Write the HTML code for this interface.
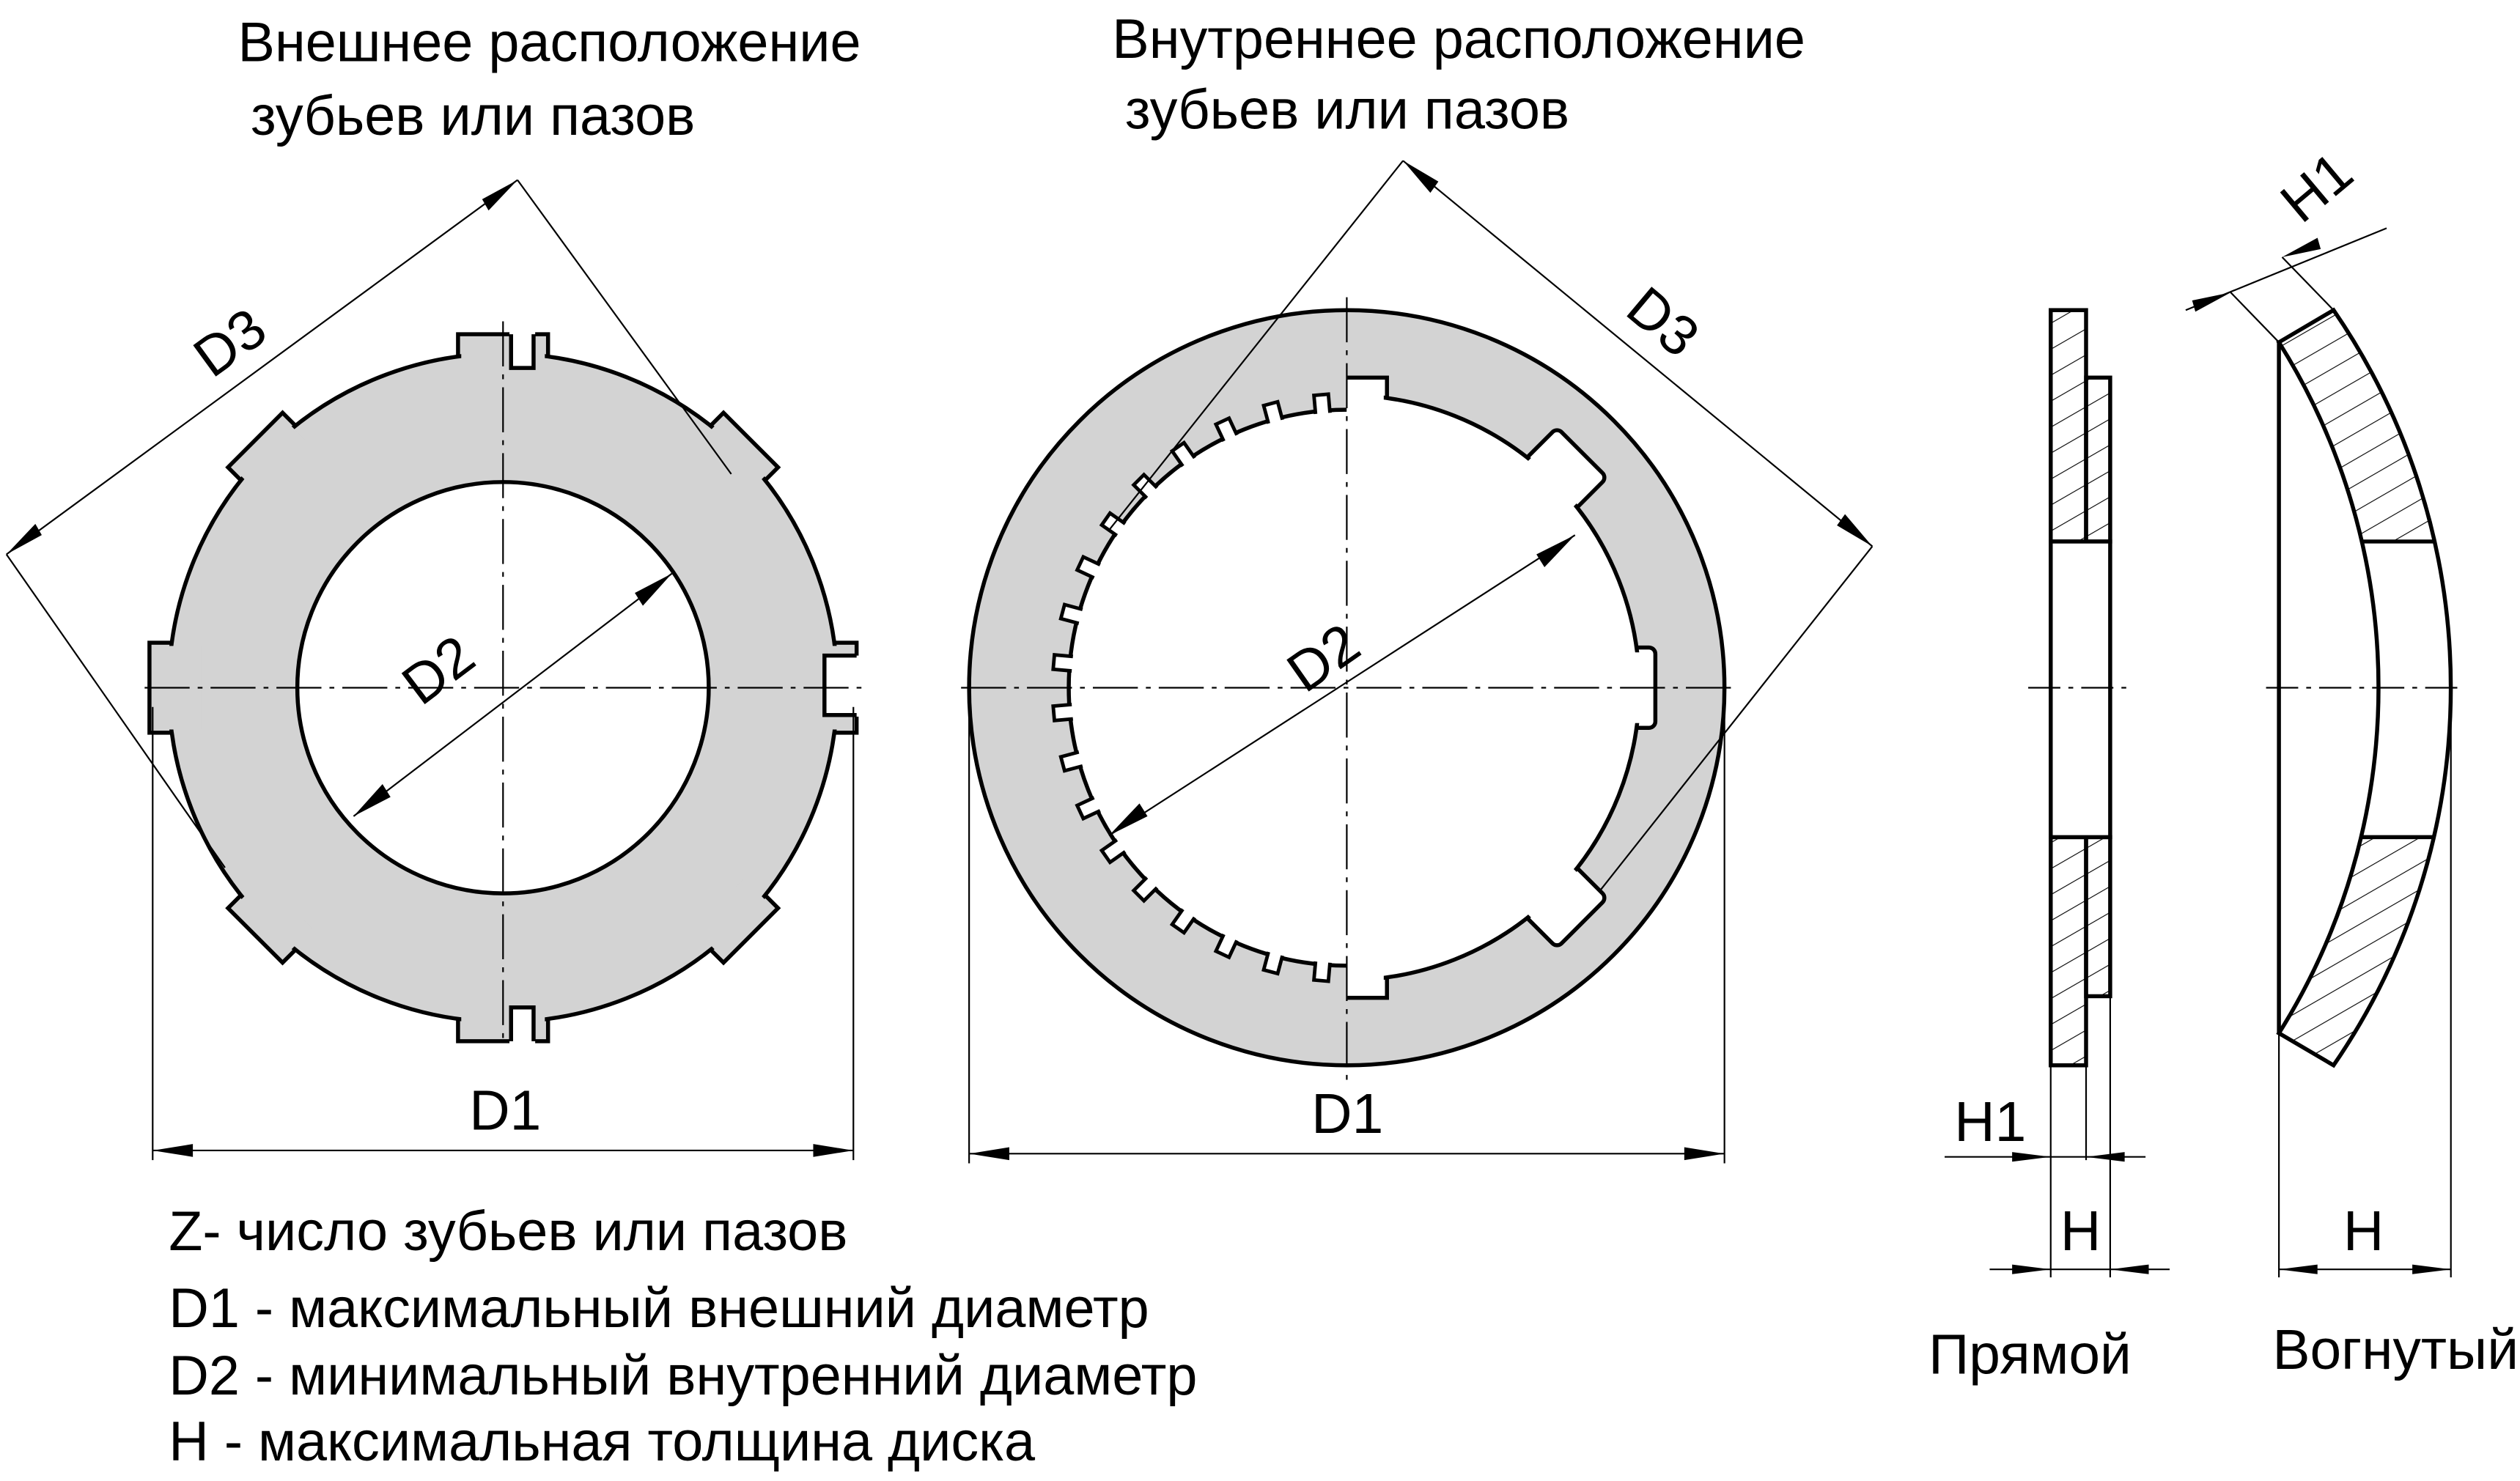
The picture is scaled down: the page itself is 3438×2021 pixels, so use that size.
<!DOCTYPE html>
<html><head><meta charset="utf-8"><style>
html,body{margin:0;padding:0;background:#fff;}
svg{display:block;}
text{font-family:"Liberation Sans",sans-serif;fill:#000;}
</style></head><body>
<svg width="3438" height="2021" viewBox="0 0 1568 921.7" xmlns="http://www.w3.org/2000/svg">
<defs>
<pattern id="h" width="14" height="14" patternUnits="userSpaceOnUse" patternTransform="rotate(-30)">
<line x1="0" y1="0" x2="14" y2="0" stroke="#000" stroke-width="1"/>
</pattern>
<clipPath id="lh"><rect x="500" y="0" width="338" height="921"/></clipPath>
<clipPath id="rh"><rect x="838" y="0" width="400" height="921"/></clipPath>
<rect id="tooth" x="-4.5" y="-183" width="9" height="14" fill="#fff" stroke="#000" stroke-width="2.2"/>
</defs>

<!-- titles -->
<text x="148" y="38" font-size="34.5">Внешнее расположение</text>
<text x="156" y="84" font-size="34.5">зубьев или пазов</text>
<text x="692" y="36" font-size="34.5">Внутреннее расположение</text>
<text x="700" y="80" font-size="34.5">зубьев или пазов</text>

<!-- LEFT DISC -->
<g transform="translate(313,428)">
  <g fill="#d3d3d3" stroke="#000" stroke-width="2.5">
    <rect x="-28" y="-220" width="56" height="30" transform="rotate(0)"/>
    <rect x="-28" y="-220" width="56" height="30" transform="rotate(90)"/>
    <rect x="-28" y="-220" width="56" height="30" transform="rotate(180)"/>
    <rect x="-28" y="-220" width="56" height="30" transform="rotate(270)"/>
    <rect x="-24" y="-218" width="48" height="26" transform="rotate(45)"/>
    <rect x="-24" y="-218" width="48" height="26" transform="rotate(135)"/>
    <rect x="-24" y="-218" width="48" height="26" transform="rotate(225)"/>
    <rect x="-24" y="-218" width="48" height="26" transform="rotate(315)"/>
    <circle r="208"/>
  </g>
  <g fill="#d3d3d3">
    <rect x="-26" y="-218" width="52" height="30" transform="rotate(0)"/>
    <rect x="-26" y="-218" width="52" height="30" transform="rotate(90)"/>
    <rect x="-26" y="-218" width="52" height="30" transform="rotate(180)"/>
    <rect x="-26" y="-218" width="52" height="30" transform="rotate(270)"/>
    <rect x="-22" y="-216" width="44" height="26" transform="rotate(45)"/>
    <rect x="-22" y="-216" width="44" height="26" transform="rotate(135)"/>
    <rect x="-22" y="-216" width="44" height="26" transform="rotate(225)"/>
    <rect x="-22" y="-216" width="44" height="26" transform="rotate(315)"/>
  </g>
  <!-- slots -->
  <g fill="#fff" stroke="none">
    <rect x="4" y="-225" width="16" height="26"/>
    <rect x="4" y="199" width="16" height="26"/>
    <rect x="199" y="-20" width="26" height="38"/>
  </g>
  <g fill="none" stroke="#000" stroke-width="2.5">
    <polyline points="5,-220 5,-199 19,-199 19,-220"/>
    <polyline points="5,220 5,199 19,199 19,220"/>
    <polyline points="220,-20 200,-20 200,17 220,17"/>
  </g>
  <circle r="128" fill="#fff" stroke="#000" stroke-width="2.5"/>
</g>
<g stroke="#000" stroke-width="1" stroke-dasharray="28,5,3,5">
  <line x1="90" y1="428" x2="540" y2="428"/>
  <line x1="313" y1="200" x2="313" y2="650"/>
</g>
<g stroke="#000" stroke-width="1" fill="none">
  <line x1="4" y1="345" x2="322" y2="112"/>
  <line x1="4" y1="345" x2="140" y2="540"/>
  <line x1="322" y1="112" x2="455" y2="295"/>
  <line x1="220" y1="508" x2="418" y2="357"/>
  <line x1="95" y1="440" x2="95" y2="722"/>
  <line x1="531" y1="440" x2="531" y2="722"/>
  <line x1="95" y1="716" x2="531" y2="716"/>
</g>
<g fill="#000">
  <polygon points="4,345 22,326 26,333"/>
  <polygon points="322,112 304,131 300,124"/>
  <polygon points="220,508 238,488 243,496"/>
  <polygon points="418,357 400,377 395,369"/>
  <polygon points="95,716 120,712 120,720"/>
  <polygon points="531,716 506,712 506,720"/>
</g>
<text x="0" y="0" font-size="35" transform="translate(132,236) rotate(-36)">D3</text>
<text x="0" y="0" font-size="35" transform="translate(262,440) rotate(-37)">D2</text>
<text x="292" y="703" font-size="35">D1</text>

<!-- RIGHT DISC -->
<g transform="translate(838,428)">
  <circle r="235" fill="#d3d3d3" stroke="#000" stroke-width="2.5"/>
</g>
<g clip-path="url(#lh)">
  <g transform="translate(838,428)">
    <circle r="173" fill="#fff" stroke="#000" stroke-width="2.5"/>
    <use href="#tooth" transform="rotate(-5)"/>
    <use href="#tooth" transform="rotate(-15)"/>
    <use href="#tooth" transform="rotate(-25)"/>
    <use href="#tooth" transform="rotate(-35)"/>
    <use href="#tooth" transform="rotate(-45)"/>
    <use href="#tooth" transform="rotate(-55)"/>
    <use href="#tooth" transform="rotate(-65)"/>
    <use href="#tooth" transform="rotate(-75)"/>
    <use href="#tooth" transform="rotate(-85)"/>
    <use href="#tooth" transform="rotate(-95)"/>
    <use href="#tooth" transform="rotate(-105)"/>
    <use href="#tooth" transform="rotate(-115)"/>
    <use href="#tooth" transform="rotate(-125)"/>
    <use href="#tooth" transform="rotate(-135)"/>
    <use href="#tooth" transform="rotate(-145)"/>
    <use href="#tooth" transform="rotate(-155)"/>
    <use href="#tooth" transform="rotate(-165)"/>
    <use href="#tooth" transform="rotate(-175)"/>
    <circle r="171.5" fill="#fff"/>
  </g>
</g>
<g clip-path="url(#rh)">
  <g transform="translate(838,428)" stroke="#000" stroke-width="2.5" fill="#fff">
    <rect x="-20" y="-193" width="45" height="40"/>
    <rect x="-20" y="153" width="45" height="40"/>
    <rect x="150" y="-25" width="42" height="50" rx="4"/>
    <rect x="-22" y="-207" width="44" height="40" rx="4" transform="rotate(45)"/>
    <rect x="-22" y="-207" width="44" height="40" rx="4" transform="rotate(135)"/>
    <circle r="182"/>
  </g>
  <g transform="translate(838,428)" fill="#fff">
    <rect x="-18" y="-189" width="41" height="40"/>
    <rect x="-18" y="150" width="41" height="40"/>
    <rect x="150" y="-22" width="39" height="44"/>
    <rect x="-20" y="-204" width="40" height="40" transform="rotate(45)"/>
    <rect x="-20" y="-204" width="40" height="40" transform="rotate(135)"/>
  </g>
</g>
<g stroke="#000" stroke-width="1" stroke-dasharray="28,5,3,5">
  <line x1="598" y1="428" x2="1078" y2="428"/>
  <line x1="838" y1="185" x2="838" y2="672"/>
</g>
<g stroke="#000" stroke-width="1" fill="none">
  <line x1="873" y1="100" x2="1165" y2="340"/>
  <line x1="873" y1="100" x2="690" y2="330"/>
  <line x1="1165" y1="340" x2="995" y2="555"/>
  <line x1="690" y1="520" x2="980" y2="333"/>
  <line x1="603" y1="440" x2="603" y2="724"/>
  <line x1="1073" y1="440" x2="1073" y2="724"/>
  <line x1="603" y1="718" x2="1073" y2="718"/>
</g>
<g fill="#000">
  <polygon points="873,100 895,113 890,120"/>
  <polygon points="1165,340 1143,327 1148,320"/>
  <polygon points="690,520 709,500 714,508"/>
  <polygon points="980,333 961,353 956,345"/>
  <polygon points="603,718 628,714 628,722"/>
  <polygon points="1073,718 1048,714 1048,722"/>
</g>
<text x="0" y="0" font-size="35" transform="translate(1010,195) rotate(40)">D3</text>
<text x="0" y="0" font-size="35" transform="translate(812,432) rotate(-35)">D2</text>
<text x="816" y="705" font-size="35">D1</text>

<!-- STRAIGHT side view -->
<g stroke="#000" stroke-width="2.5">
  <rect x="1276" y="193" width="22" height="144" fill="url(#h)"/>
  <rect x="1276" y="521" width="22" height="142" fill="url(#h)"/>
  <rect x="1298" y="235" width="15" height="102" fill="url(#h)"/>
  <rect x="1298" y="521" width="15" height="99" fill="url(#h)"/>
  <rect x="1276" y="337" width="37" height="184" fill="#fff"/>
</g>
<line x1="1262" y1="428" x2="1325" y2="428" stroke="#000" stroke-width="1" stroke-dasharray="20,5,3,5"/>
<g stroke="#000" stroke-width="1">
  <line x1="1276" y1="663" x2="1276" y2="795"/>
  <line x1="1298" y1="663" x2="1298" y2="722"/>
  <line x1="1313" y1="620" x2="1313" y2="795"/>
  <line x1="1210" y1="720" x2="1335" y2="720"/>
  <line x1="1238" y1="790" x2="1350" y2="790"/>
</g>
<g fill="#000">
  <polygon points="1276,720 1252,717 1252,723"/>
  <polygon points="1298,720 1322,717 1322,723"/>
  <polygon points="1276,790 1252,787 1252,793"/>
  <polygon points="1313,790 1337,787 1337,793"/>
</g>
<text x="1216" y="710" font-size="35">H1</text>
<text x="1282" y="778" font-size="35">H</text>
<text x="1200" y="855" font-size="35">Прямой</text>

<!-- CONCAVE side view -->
<path d="M1418,213 L1452,193 A415,415 0 0 1 1452,663 L1418,643 A404,404 0 0 0 1418,213 Z" fill="url(#h)" stroke="none"/>
<rect x="1419" y="337" width="110" height="184" fill="#fff"/>
<g stroke="#000" stroke-width="2.5" fill="none">
  <path d="M1418,213 L1452,193 A415,415 0 0 1 1452,663 L1418,643 A404,404 0 0 0 1418,213 Z"/>
  <line x1="1418" y1="213" x2="1418" y2="643"/>
  <line x1="1470" y1="337" x2="1515" y2="337"/>
  <line x1="1470" y1="521" x2="1515" y2="521"/>
</g>
<line x1="1410" y1="428" x2="1530" y2="428" stroke="#000" stroke-width="1" stroke-dasharray="20,5,3,5"/>
<g stroke="#000" stroke-width="1">
  <line x1="1418" y1="643" x2="1418" y2="795"/>
  <line x1="1525" y1="440" x2="1525" y2="795"/>
  <line x1="1418" y1="790" x2="1525" y2="790"/>
  <line x1="1418" y1="213" x2="1388" y2="182"/>
  <line x1="1452" y1="193" x2="1420" y2="160"/>
  <line x1="1360" y1="193" x2="1485" y2="142"/>
</g>
<g fill="#000">
  <polygon points="1388,182 1366,194 1364,187"/>
  <polygon points="1420,160 1442,148 1444,155"/>
  <polygon points="1418,790 1442,787 1442,793"/>
  <polygon points="1525,790 1501,787 1501,793"/>
</g>
<text x="0" y="0" font-size="35" transform="translate(1432,140) rotate(-40)">H1</text>
<text x="1458" y="778" font-size="35">H</text>
<text x="1414" y="852" font-size="35">Вогнутый</text>

<!-- legend -->
<text x="105" y="778" font-size="34.5">Z- число зубьев или пазов</text>
<text x="105" y="826" font-size="34.5">D1 - максимальный внешний диаметр</text>
<text x="105" y="868" font-size="34.5">D2 - минимальный внутренний диаметр</text>
<text x="105" y="909" font-size="34.5">H - максимальная толщина диска</text>
</svg>
</body></html>
